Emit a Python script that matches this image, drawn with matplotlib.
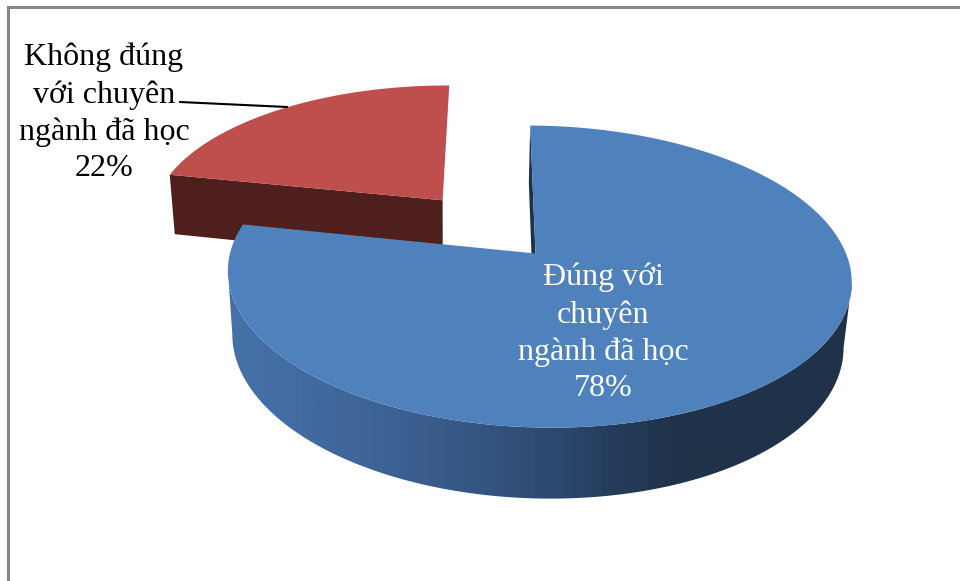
import numpy as np
import matplotlib
matplotlib.use("Agg")
import matplotlib.pyplot as plt
from matplotlib.colors import LinearSegmentedColormap
from matplotlib.patches import Polygon

labels = ["Đúng với\nchuyên\nngành đã học", "Không đúng\nvới chuyên\nngành đã học"]
values = [78, 22]
explode = [0.0, 0.49]
top_colors = ["#4F81BD", "#BE4F4C"]
side_colors = ["#1F3249", "#4F1F1E"]
text_colors = ["white", "black"]
label_pos = [(603, 333), (104, 113)]

START = 1.0  # degrees, clockwise from the far side of the disc
DEPTH = 1.0


def project(X, Y, Z=0.0):
    # perspective view of the disc, output in pixel axes
    w = 1 + 0.153 * Y - 0.008 * X + 0.02 * Z
    x = 535.5 + (308 * X - 11.5 * Y - 1.7 * Z) / w
    y = 253.5 + (-147.5 * Y + 65 * Z) / w
    return x, y


def rim(t, cx, cy, Z=0.0):
    t = np.radians(t)
    return project(cx + np.sin(t), cy + np.cos(t), Z)


fig = plt.figure(figsize=(9.6, 5.81), dpi=100)
ax = fig.add_axes([0, 0, 1, 1])

# chart frame, only top and left are in view
ax.plot([8, 8, 960], [581, 7, 7], color="#868686", lw=2.2, solid_joinstyle="miter", zorder=1)

# side shading of the large slice, by horizontal position
wall_cmap = LinearSegmentedColormap.from_list(
    "wall",
    [(0.0, "#4672A8"), (0.2, "#40669A"), (0.42, "#335480"), (0.6, "#263F60"), (0.72, "#1F3249"), (1.0, "#1F3249")],
)

angles = np.cumsum([0] + values) / sum(values) * 360 + START

# small slice first, it sits behind
for i, z in [(1, 2), (0, 4)]:
    a0, a1 = angles[i], angles[i + 1]
    mid = np.radians((a0 + a1) / 2)
    cx = explode[i] * np.sin(mid)
    cy = explode[i] * np.cos(mid)
    ts = np.linspace(a0, a1, 800)
    xt, yt = rim(ts, cx, cy)

    # cut face at the start of the slice
    face = [project(cx, cy), rim(a0, cx, cy), rim(a0, cx, cy, DEPTH), project(cx, cy, DEPTH)]
    ax.add_patch(Polygon(face, closed=True, fc=side_colors[i], ec="none", zorder=z))

    if i == 0:
        # outer wall between the two silhouette tangents, filled with a left-right gradient
        xb, yb = rim(ts, cx, cy, DEPTH)
        t0, t1 = np.argmax(xt), np.argmin(xt)
        b0, b1 = np.argmax(xb), np.argmin(xb)
        wall = list(zip(xt[t0:t1 + 1], yt[t0:t1 + 1])) + list(zip(xb[b0:b1 + 1][::-1], yb[b0:b1 + 1][::-1]))
        patch = Polygon(wall, closed=True, fc="none", ec="none")
        ax.add_patch(patch)
        img = ax.imshow(np.linspace(0, 1, 624)[None, :], cmap=wall_cmap, aspect="auto",
                        extent=[xt.min(), xt.max(), yb.max(), yt.min()], zorder=z, interpolation="bilinear")
        img.set_clip_path(patch)

    # top of the slice
    outline = [project(cx, cy)] + list(zip(xt, yt))
    ax.add_patch(Polygon(outline, closed=True, fc=top_colors[i], ec="none", zorder=z + 1))

# leader line of the small slice
ax.plot([180, 287], [102, 107], color="black", lw=1.5, zorder=6)

for name, val, col, pos in zip(labels, values, text_colors, label_pos):
    ax.text(pos[0], pos[1], f"{name}\n{val}%", color=col, fontsize=23, family="Liberation Serif",
            ha="center", va="center", multialignment="center", linespacing=1.34, zorder=7)

ax.set_xlim(0, 960)
ax.set_ylim(581, 0)
ax.axis("off")

fig.savefig("out.png", dpi=100, facecolor="white")
